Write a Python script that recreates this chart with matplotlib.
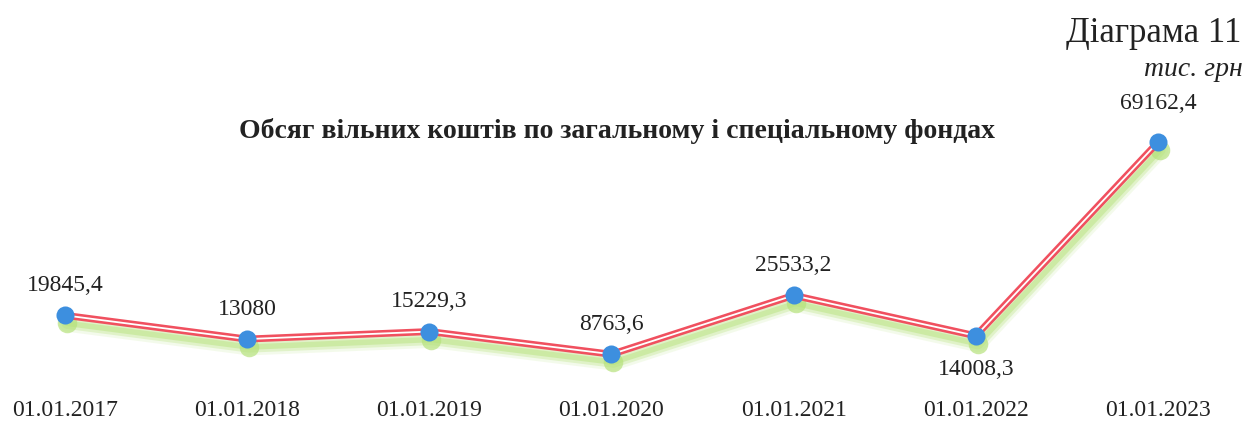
import matplotlib
matplotlib.use("Agg")
import matplotlib.pyplot as plt
import matplotlib.transforms as mtrans

# values, тис. грн
dates = ["01.01.2017", "01.01.2018", "01.01.2019", "01.01.2020",
         "01.01.2021", "01.01.2022", "01.01.2023"]
values = [19845.4, 13080, 15229.3, 8763.6, 25533.2, 14008.3, 69162.4]
labels = ["19845,4", "13080", "15229,3", "8763,6", "25533,2", "14008,3", "69162,4"]
label_below = [False, False, False, False, False, True, False]

plt.rcParams['font.family'] = ['Liberation Serif', 'DejaVu Serif']

fig = plt.figure(figsize=(12.59, 4.21), dpi=100)
ax = fig.add_axes([0, 0, 1, 1])
ax.set_xlim(-0.3568, 6.5545)
ax.set_ylim(-10257, 109686)
ax.axis("off")

x = list(range(len(values)))

# soft green shadow under the line
for dx, dy, lw, a in [(2, -8, 12, 0.15), (2, -8, 8, 0.3), (2, -8, 4, 0.45)]:
    tr = mtrans.offset_copy(ax.transData, fig=fig, x=dx, y=dy, units="dots")
    ax.plot(x, values, color="#b5e27a", lw=lw, alpha=a, transform=tr,
            solid_capstyle="round", solid_joinstyle="round", zorder=1)
    ax.plot(x, values, "o", color="#b5e27a", ms=14, alpha=a, mec="none",
            transform=tr, zorder=1)

# red double line
ax.plot(x, values, color="#f0505f", lw=5, zorder=2, solid_joinstyle="round")
ax.plot(x, values, color="white", lw=1.3, zorder=3, solid_joinstyle="round")
ax.plot(x, values, "o", color="#3d8fdf", ms=13, mec="none", zorder=4)

# data labels
for i, (v, t) in enumerate(zip(values, labels)):
    off = -34 if label_below[i] else 30
    if i == len(values) - 1:
        off = 39
    ax.annotate(t, (i, v), xytext=(0, off), textcoords="offset pixels",
                ha="center", va="center", fontsize=17, color="#222222")

# category labels
tb = mtrans.blended_transform_factory(ax.transData, fig.transFigure)
for i, d in enumerate(dates):
    ax.text(i, 1 - 410 / 421, d, transform=tb, ha="center", va="center",
            fontsize=17, color="#222222")

fig.text(617 / 1259, 1 - 131 / 421,
         "Обсяг вільних коштів по загальному і спеціальному фондах",
         ha="center", va="center", fontsize=20, fontweight="bold", color="#222222")
fig.text(1241 / 1259, 1 - 33 / 421, "Діаграма 11", ha="right", va="center",
         fontsize=25, color="#222222")
fig.text(1243 / 1259, 1 - 70 / 421, "тис. грн", ha="right", va="center",
         fontsize=20, style="italic", color="#222222")

fig.savefig("out.png", dpi=100, facecolor="white")
